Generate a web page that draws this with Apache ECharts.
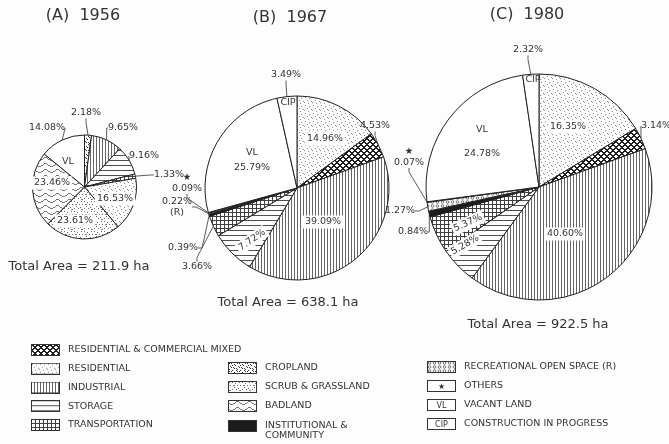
<!DOCTYPE html>
<html>
<head>
<meta charset="utf-8">
<script src="https://cdn.jsdelivr.net/npm/echarts@6/dist/echarts.min.js"></script>
<style>
  html, body { margin: 0; padding: 0; background: #fdfdfd; }
  #chart { width: 669px; height: 444px; }
</style>
</head>
<body>
<div id="chart"></div>
<script>
// ---- land-use categories ----
const RCM = 'Residential & Commercial Mixed';
const RES = 'Residential';
const IND = 'Industrial';
const STO = 'Storage';
const TRA = 'Transportation';
const CRO = 'Cropland';
const SCR = 'Scrub & Grassland';
const BAD = 'Badland';
const INS = 'Institutional & Community';
const REC = 'Recreational Open Space (R)';
const OTH = 'Others';
const VAC = 'Vacant Land';
const CIP = 'Construction in Progress';

// ---- panels ----
const panelTags = ['(A)', '(B)', '(C)'];
const years = ['1956', '1967', '1980'];
const totalAreaHa = [211.9, 638.1, 922.5];

// slices listed clockwise from 12 o'clock, shares in percent
const cats1956 = [CRO, IND, STO, TRA, RES, SCR, BAD, VAC];
const shares1956 = [2.18, 9.65, 9.16, 1.33, 16.53, 23.61, 23.46, 14.08];

const cats1967 = [RES, RCM, IND, STO, TRA, INS, REC, OTH, VAC, CIP];
const shares1967 = [14.96, 4.53, 39.09, 7.72, 3.66, 0.39, 0.22, 0.09, 25.79, 3.49];

const cats1980 = [RES, RCM, IND, STO, TRA, INS, REC, OTH, VAC, CIP];
const shares1980 = [16.35, 3.14, 40.60, 5.28, 5.37, 0.84, 1.27, 0.07, 24.78, 2.32];

// legend columns (the two-line entry gets its own block)
const legendCol1 = [RCM, RES, IND, STO, TRA];
const legendCol2 = [CRO, SCR, BAD];
const legendCol2Tail = [INS];
const legendCol3 = [REC, OTH, VAC, CIP];
const legendMarks = { [OTH]: '\u2605', [VAC]: 'VL', [CIP]: 'CIP' };

// ---- label placement (pixel anchors of each slice's label) ----
const spots1956 = [
  { at: [86, 113], out: true },
  { at: [123, 128], out: true },
  { at: [144, 156], out: true },
  { at: [169, 175], out: true },
  { at: [115, 199] },
  { at: [75, 221] },
  { at: [52, 183] },
  { at: [47, 128], out: true }
];
const tags1956 = { 7: { text: 'VL', at: [68, 162] } };

const spots1967 = [
  { at: [325, 139] },
  { at: [375, 126], out: true },
  { at: [323, 222] },
  { at: [252, 240], rotate: 35 },
  { at: [197, 267], out: true },
  { at: [183, 248], out: true },
  { at: [177, 207], out: true, post: '(R)' },
  { at: [187, 183], out: true, pre: '\u2605' },
  { at: [252, 160], pre: 'VL', lh: 15 },
  { at: [286, 75], out: true }
];
const tags1967 = { 9: { text: 'CIP', at: [288, 103] } };

const spots1980 = [
  { at: [568, 127] },
  { at: [656, 126], out: true },
  { at: [565, 234] },
  { at: [465, 245], rotate: 30 },
  { at: [468, 223], rotate: 25 },
  { at: [413, 232], out: true },
  { at: [400, 211], out: true },
  { at: [409, 157], out: true, pre: '\u2605' },
  { at: [482, 142], pre: 'VL', lh: 24 },
  { at: [528, 50], out: true }
];
const tags1980 = { 9: { text: 'CIP', at: [533, 80] } };

const FONT = 'DejaVu Sans';
const INK = '#333';

// ---- hatch / stipple tiles ----
function tile(w, h, paint) {
  const c = document.createElement('canvas');
  c.width = w; c.height = h;
  const g = c.getContext('2d');
  g.fillStyle = '#fff';
  g.fillRect(0, 0, w, h);
  paint(g);
  return c;
}
function dots(g, pts, color) {
  g.fillStyle = color;
  pts.forEach(p => g.fillRect(p[0], p[1], 1, 1));
}

const tiles = {};
tiles[IND] = tile(3, 3, g => { g.fillStyle = '#666'; g.fillRect(0, 0, 1, 3); });
tiles[STO] = tile(4, 5, g => { g.fillStyle = '#505050'; g.fillRect(0, 0, 4, 1); });
tiles[TRA] = tile(4, 4, g => { g.fillStyle = '#404040'; g.fillRect(0, 0, 4, 1); g.fillRect(0, 0, 1, 4); });
tiles[RCM] = tile(6, 6, g => {
  const pts = [];
  for (let y = 0; y < 6; y++) {
    for (let x = 0; x < 6; x++) {
      if ((x + y) % 6 === 0 || (x - y + 6) % 6 === 0 || (x + y) % 6 === 1 || (x - y + 6) % 6 === 1) pts.push([x, y]);
    }
  }
  dots(g, pts, '#1e1e1e');
});
tiles[RES] = tile(8, 8, g => dots(g, [[1, 1], [5, 2], [3, 4], [7, 5], [0, 6], [4, 7]], '#8a8a8a'));
tiles[SCR] = tile(10, 10, g => {
  dots(g, [[1, 1], [4, 1], [7, 2], [2, 4], [9, 4], [0, 7], [4, 8], [8, 8], [6, 6]], '#6a6a6a');
  g.fillStyle = '#7a7a7a';
  g.fillRect(5, 4, 2, 1);
  g.fillRect(1, 9, 2, 1);
});
tiles[CRO] = tile(8, 8, g => dots(g, [[0, 0], [1, 1], [3, 1], [4, 0], [6, 2], [7, 3], [2, 4], [3, 5], [5, 5], [6, 6], [0, 6], [1, 7], [4, 3]], '#333'));
tiles[BAD] = tile(12, 6, g => {
  const pts = [];
  for (let x = 0; x < 12; x++) pts.push([x, Math.round(2.5 + 1.4 * Math.sin(x / 12 * 2 * Math.PI))]);
  dots(g, pts, '#777');
});
tiles[REC] = tile(5, 4, g => {
  g.strokeStyle = '#555';
  g.lineWidth = 0.8;
  g.beginPath();
  g.arc(2.5, 2, 1.3, 0, Math.PI * 2);
  g.stroke();
});
const solids = { [INS]: '#1c1c1c', [OTH]: '#ffffff', [VAC]: '#ffffff', [CIP]: '#ffffff' };

function fillOf(cat) {
  return tiles[cat] ? { image: tiles[cat], repeat: 'repeat' } : solids[cat];
}

// legend swatches drawn as small images
function swatch(cat) {
  const c = document.createElement('canvas');
  c.width = 29; c.height = 12;
  const g = c.getContext('2d');
  g.fillStyle = tiles[cat] ? g.createPattern(tiles[cat], 'repeat') : solids[cat];
  g.fillRect(0, 0, 29, 12);
  g.strokeStyle = '#333';
  g.lineWidth = 1;
  g.strokeRect(0.5, 0.5, 28, 11);
  if (legendMarks[cat]) {
    g.fillStyle = '#333';
    g.font = '8px "DejaVu Sans"';
    g.textAlign = 'center';
    g.textBaseline = 'middle';
    g.fillText(legendMarks[cat], 14.5, 6.5);
  }
  return 'image://' + c.toDataURL();
}

// ---- pies ----
const pies = [
  { cats: cats1956, shares: shares1956, center: [84.5, 187], radius: 52, spots: spots1956, tags: tags1956 },
  { cats: cats1967, shares: shares1967, center: [297, 188], radius: 92, spots: spots1967, tags: tags1967 },
  { cats: cats1980, shares: shares1980, center: [539, 187], radius: 113, spots: spots1980, tags: tags1980 }
];

const series = [];
pies.forEach(p => {
  series.push({
    type: 'pie',
    center: p.center,
    radius: p.radius,
    startAngle: 90,
    clockwise: true,
    avoidLabelOverlap: false,
    animation: false,
    silent: true,
    emphasis: { disabled: true },
    itemStyle: { borderColor: '#222', borderWidth: 1 },
    label: {
      show: true,
      fontFamily: FONT,
      fontSize: 9.5,
      color: INK,
      overflow: 'none',
      formatter: prm => {
        const s = p.spots[prm.dataIndex];
        let t = prm.value.toFixed(2) + '%';
        if (s.pre) t = s.pre + '\n' + t;
        if (s.post) t = t + '\n' + s.post;
        return t;
      }
    },
    labelLine: { show: true, length: 5, length2: 4, lineStyle: { color: INK, width: 0.8 } },
    labelLayout: prm => {
      const s = p.spots[prm.dataIndex];
      return { x: s.at[0], y: s.at[1], align: 'center', verticalAlign: 'middle' };
    },
    data: p.cats.map((c, i) => {
      const s = p.spots[i];
      return {
        name: c,
        value: p.shares[i],
        itemStyle: { color: fillOf(c) },
        label: {
          position: s.out ? 'outside' : 'inside',
          rotate: s.rotate || 0,
          backgroundColor: s.out ? 'transparent' : '#fff',
          padding: s.out ? 0 : [1, 2],
          lineHeight: s.lh || 11
        },
        labelLine: { show: !!s.out }
      };
    })
  });
  // second ring of text: category tags drawn inside their slices
  series.push({
    type: 'pie',
    center: p.center,
    radius: p.radius,
    startAngle: 90,
    clockwise: true,
    avoidLabelOverlap: false,
    animation: false,
    silent: true,
    emphasis: { disabled: true },
    itemStyle: { color: 'rgba(0,0,0,0)', borderWidth: 0 },
    label: {
      show: true,
      position: 'inside',
      fontFamily: FONT,
      fontSize: 9.5,
      color: INK,
      formatter: prm => (p.tags[prm.dataIndex] ? p.tags[prm.dataIndex].text : '')
    },
    labelLine: { show: false },
    labelLayout: prm => {
      const t = p.tags[prm.dataIndex];
      return t ? { x: t.at[0], y: t.at[1], align: 'center', verticalAlign: 'middle' } : {};
    },
    data: p.cats.map((c, i) => ({ name: c, value: p.shares[i] }))
  });
});

// ---- legend ----
// the two-line entry keeps its first line level with the swatch
function legendText(name) {
  return name === INS ? '\nINSTITUTIONAL &\nCOMMUNITY' : name.toUpperCase();
}
function legendBlock(cats, left, top, gap) {
  return {
    orient: 'vertical',
    left: left,
    top: top,
    height: 110,
    padding: 0,
    itemWidth: 29,
    itemHeight: 12,
    itemGap: gap,
    selectedMode: false,
    textStyle: { fontFamily: FONT, fontSize: 9.5, color: INK, padding: [0, 0, 0, 3] },
    formatter: legendText,
    data: cats.map(c => {
      const item = { name: c, icon: swatch(c) };
      if (c === INS) item.textStyle = { lineHeight: 10 };
      return item;
    })
  };
}

// ---- headings ----
const titleAt = [[83, 16], [290, 18], [527, 15]];
const totalAt = [[79, 267], [288, 303], [538, 325]];
const graphic = [];
years.forEach((y, k) => {
  graphic.push({
    type: 'text', x: titleAt[k][0], y: titleAt[k][1],
    style: {
      text: panelTags[k] + '  ' + y, font: '16px "DejaVu Sans"', fill: INK,
      align: 'center', verticalAlign: 'middle', textAlign: 'center', textVerticalAlign: 'middle'
    }
  });
  graphic.push({
    type: 'text', x: totalAt[k][0], y: totalAt[k][1],
    style: {
      text: 'Total Area = ' + totalAreaHa[k].toFixed(1) + ' ha', font: '13px "DejaVu Sans"', fill: INK,
      align: 'center', verticalAlign: 'middle', textAlign: 'center', textVerticalAlign: 'middle'
    }
  });
});

const chart = echarts.init(document.getElementById('chart'), null, { renderer: 'canvas' });
chart.setOption({
  backgroundColor: '#fdfdfd',
  animation: false,
  legend: [
    legendBlock(legendCol1, 31, 344, 6.75),
    legendBlock(legendCol2, 228, 362, 7),
    legendBlock(legendCol2Tail, 228, 411, 7),
    legendBlock(legendCol3, 427, 361, 7)
  ],
  graphic: graphic,
  series: series
});
</script>
</body>
</html>
